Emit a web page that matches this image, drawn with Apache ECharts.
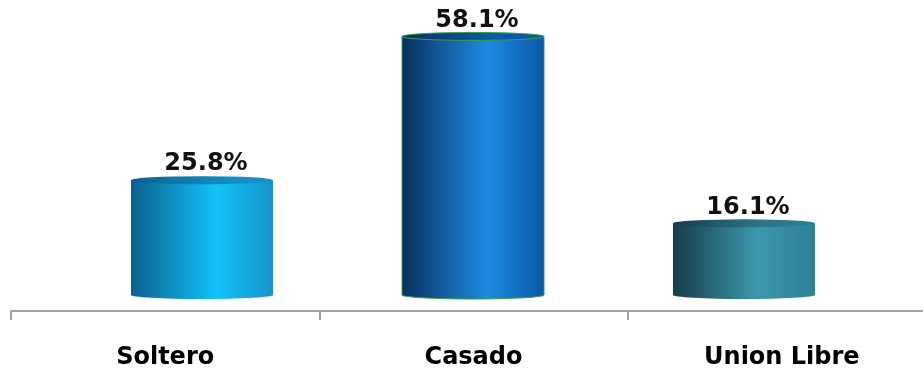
<!DOCTYPE html>
<html>
<head>
<meta charset="utf-8">
<script src="https://cdn.jsdelivr.net/npm/echarts@6/dist/echarts.min.js"></script>
<style>
  html, body { margin: 0; padding: 0; background: #fff; }
  #chart { width: 923px; height: 373px; }
</style>
</head>
<body>
<div id="chart"></div>
<script>
// Estado civil: percentage per category
const categories = ['Soltero', 'Casado', 'Union Libre'];
const values = [25.8, 58.1, 16.1];

// Cylinder colours: [left shade, highlight, right shade, top cap]
const palettes = [
  ['#0b5f8c', '#12c2fa', '#1592c9', '#1389bd'],
  ['#082f5e', '#1f8ae2', '#0a58a6', '#0c5aa6'],
  ['#163d4a', '#3c98ae', '#2e7f94', '#2a7487']
];
const outlines = [null, '#3aa040', null];

const FONT_FAMILY = '"DejaVu Sans", sans-serif';
const LABEL_FONT = 'bold 24px "DejaVu Sans", sans-serif';

const chart = echarts.init(document.getElementById('chart'), null, { renderer: 'canvas' });

function cylinder(params, api) {
  const i = params.dataIndex;
  const top = api.coord([api.value(0), api.value(1)]);
  const base = api.coord([api.value(0), 0]);
  const halfW = 71, ry = 4;
  const cx = top[0];
  const l = cx - halfW, r = cx + halfW;
  const ty = top[1], by = base[1];
  const p = palettes[i];
  const sideFill = new echarts.graphic.LinearGradient(0, 0, 1, 0, [
    { offset: 0, color: p[0] },
    { offset: 0.6, color: p[1] },
    { offset: 1, color: p[2] }
  ]);
  const capFill = new echarts.graphic.LinearGradient(0, 0, 1, 0, [
    { offset: 0, color: p[0] },
    { offset: 0.6, color: p[3] },
    { offset: 1, color: p[2] }
  ]);
  const stroke = outlines[i];
  return {
    type: 'group',
    children: [
      {
        type: 'path',
        shape: {
          pathData: `M${l},${ty} L${l},${by} A${halfW},${ry} 0 0 0 ${r},${by} L${r},${ty} Z`
        },
        style: { fill: sideFill, stroke: stroke || null, lineWidth: stroke ? 1 : 0 }
      },
      {
        type: 'path',
        shape: {
          pathData: `M${l},${ty} A${halfW},${ry} 0 1 1 ${r},${ty} A${halfW},${ry} 0 1 1 ${l},${ty} Z`
        },
        style: { fill: capFill, stroke: stroke || null, lineWidth: stroke ? 1 : 0 }
      },
      {
        type: 'text',
        style: {
          text: values[i].toFixed(1) + '%',
          x: cx + 4,
          y: ty - 4,
          textAlign: 'center',
          textVerticalAlign: 'bottom',
          font: LABEL_FONT,
          fill: '#111'
        }
      }
    ]
  };
}

chart.setOption({
  animation: false,
  grid: [
    { left: 11, right: -13, top: 28, bottom: 62, outerBoundsMode: 'none', containLabel: false },
    { left: 66.5, right: 43.5, top: 28, bottom: 78, outerBoundsMode: 'none', containLabel: false }
  ],
  xAxis: [
    {
      type: 'category',
      gridIndex: 0,
      data: categories,
      axisLine: { lineStyle: { color: '#a3a3a3', width: 2 } },
      axisTick: { show: true, length: 9, interval: 0, lineStyle: { color: '#a3a3a3', width: 2 } },
      axisLabel: {
        margin: 35,
        interval: 0,
        color: '#000',
        fontFamily: FONT_FAMILY,
        fontWeight: 'bold',
        fontSize: 24
      }
    },
    {
      type: 'category',
      gridIndex: 1,
      data: categories,
      show: false
    }
  ],
  yAxis: [
    { type: 'value', gridIndex: 0, show: false, min: 0, max: 60 },
    { type: 'value', gridIndex: 1, show: false, min: 0, max: 60 }
  ],
  series: [
    {
      type: 'custom',
      xAxisIndex: 1,
      yAxisIndex: 1,
      renderItem: cylinder,
      data: categories.map((c, i) => [i, values[i]])
    }
  ]
});
</script>
</body>
</html>
